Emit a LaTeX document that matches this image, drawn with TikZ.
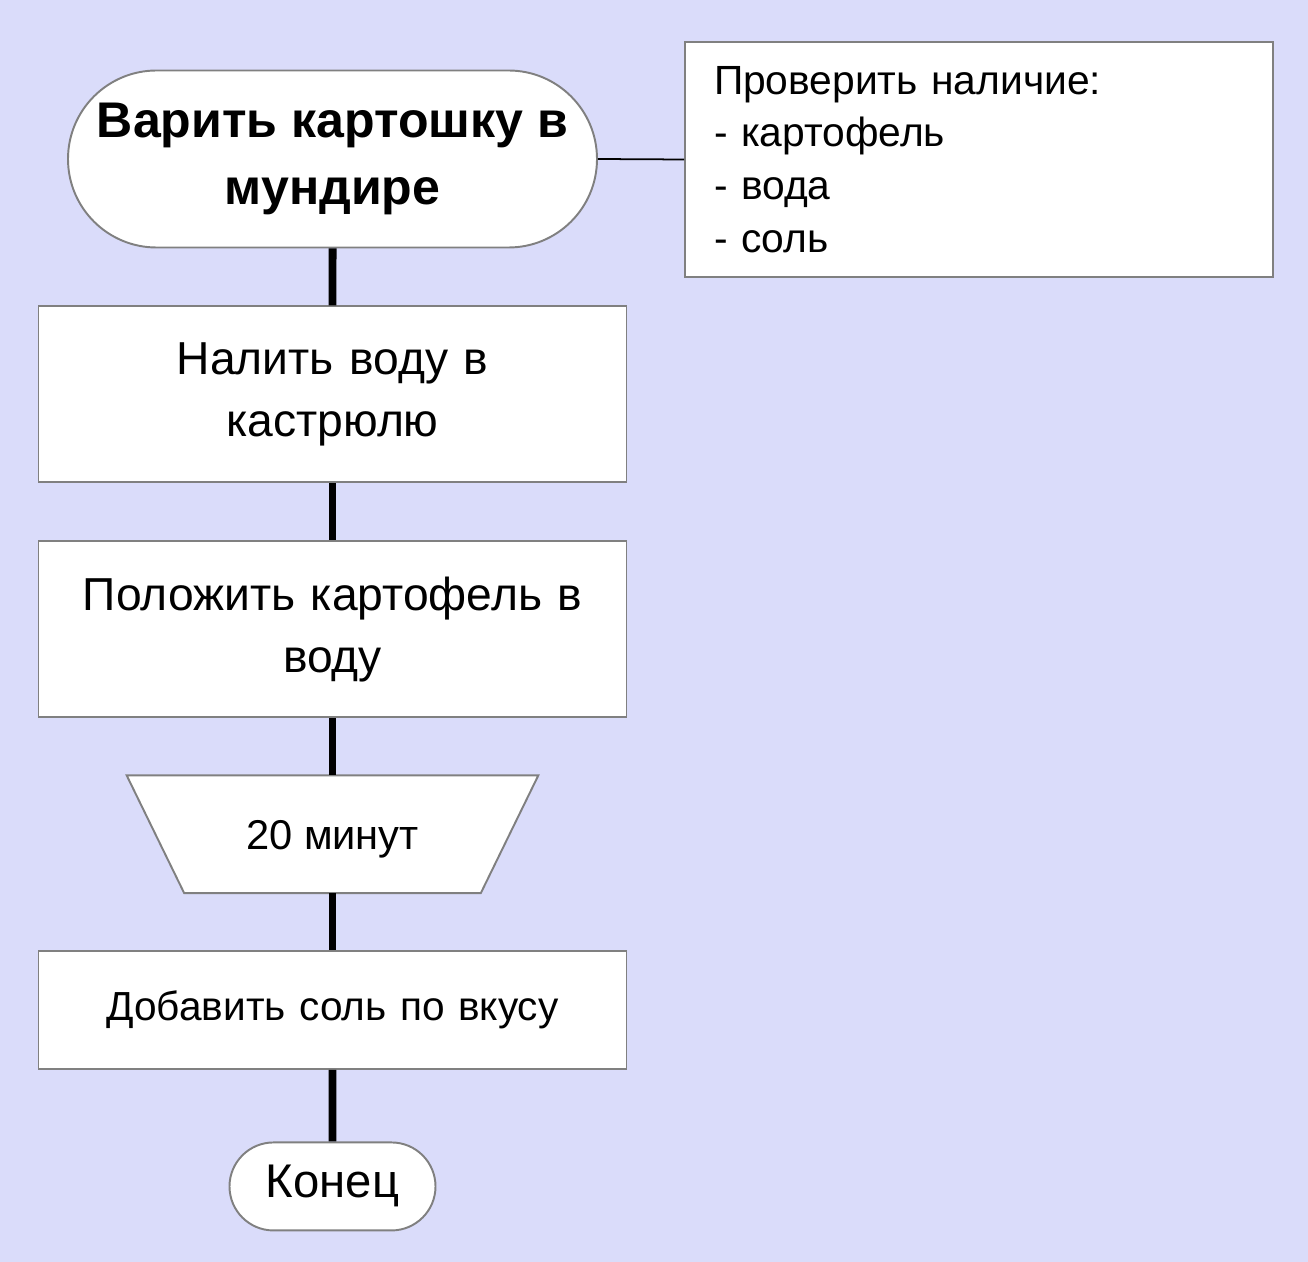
\documentclass[tikz,border=0pt]{standalone}
\usepackage{fontspec}
\setmainfont{Liberation Sans}
\usetikzlibrary{positioning,shapes.misc}

\definecolor{bgcol}{RGB}{218,220,250}
\definecolor{edgecol}{RGB}{128,128,128}

\begin{document}
\begin{tikzpicture}[
  node distance=1.14cm,
  base/.style={draw=edgecol, line width=1.1pt, fill=white, align=center, inner sep=0pt},
  term/.style={base, rounded rectangle},
  stepbox/.style={base, minimum width=11.76cm, minimum height=3.52cm, text width=11cm,
    font=\fontsize{26.3}{35.5}\selectfont},
  link/.style={line width=4.5pt},
  note/.style={line width=1pt}
]
  \fill[bgcol] (0,0) rectangle (26.16,-25.24);
  \useasboundingbox (0,0) rectangle (26.16,-25.24);

  \node[term, minimum width=10.58cm, minimum height=3.54cm,
    font=\bfseries\fontsize{28.5}{38.5}\selectfont] (start) at (6.65,-3.18)
    {Варить картошку в\\мундире};
  \node[base, minimum height=4.7cm, text width=10.6cm, inner xsep=0.58cm, align=left,
    font=\fontsize{23.2}{30}\selectfont] (check) at (19.58,-3.19)
    {Проверить наличие:\\- картофель\\- вода\\- соль};
  \node[stepbox, below=of start] (water) {Налить воду в\\кастрюлю};
  \node[stepbox, below=of water] (potato) {Положить картофель в\\воду};
  % trapezoid drawn by hand round this node
  \node[inner sep=0pt, minimum width=8.22cm, minimum height=2.34cm,
    below=of potato] (wait) {};
  \draw[base] (wait.north west) -- (wait.north east)
    -- ([xshift=-1.15cm]wait.south east) -- ([xshift=1.15cm]wait.south west) -- cycle;
  \node[font=\fontsize{23.7}{28}\selectfont] at ([yshift=-1mm]wait) {20 минут};
  \node[stepbox, minimum height=2.36cm, font=\fontsize{23.1}{28}\selectfont,
    below=of wait] (salt) {Добавить соль по вкусу};
  \node[term, minimum width=4.12cm, minimum height=1.76cm,
    font=\fontsize{26.9}{30}\selectfont, below=1.43cm of salt] (finish) {Конец};

  \draw[note] (start.east) -- (check.west);
  \draw[link] (start) -- (water);
  \draw[link] (water) -- (potato);
  \draw[link] (potato) -- (wait);
  \draw[link] (wait) -- (salt);
  \draw[link] (salt) -- (finish);
\end{tikzpicture}
\end{document}
